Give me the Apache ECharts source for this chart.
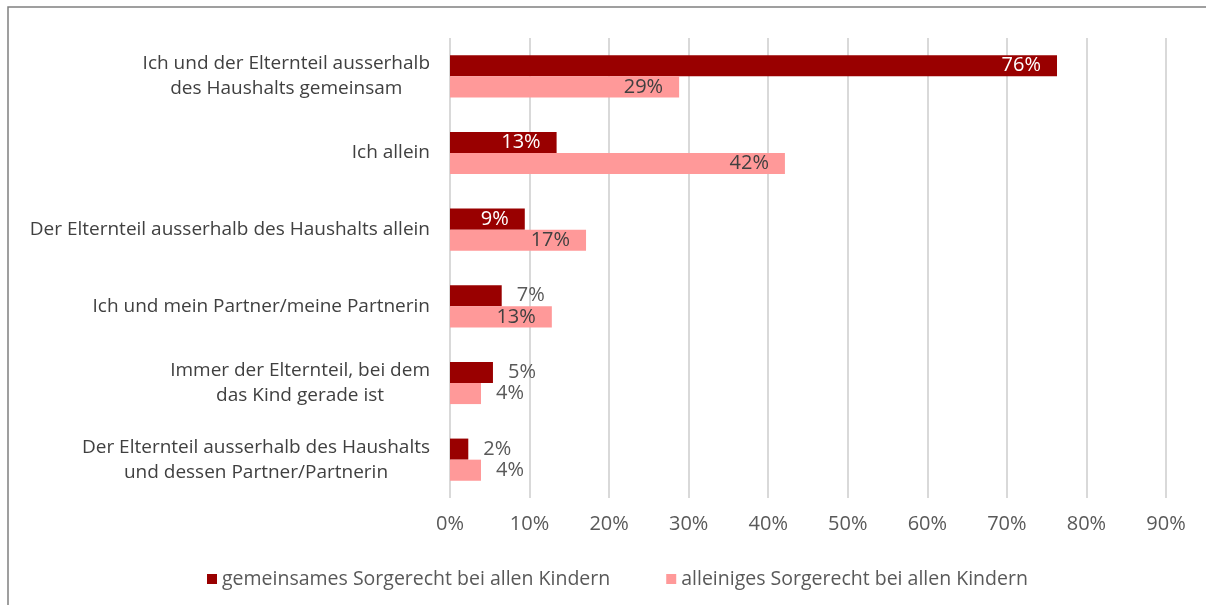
<!DOCTYPE html>
<html>
<head>
<meta charset="utf-8">
<script src="https://cdn.jsdelivr.net/npm/echarts@6/dist/echarts.min.js"></script>
<style>
  html, body { margin: 0; padding: 0; background: #fff; }
  #chart { width: 1206px; height: 605px; }
</style>
</head>
<body>
<div id="chart"></div>
<script>
var categories = [
  'Ich und der Elternteil ausserhalb\ndes Haushalts gemeinsam',
  'Ich allein',
  'Der Elternteil ausserhalb des Haushalts allein',
  'Ich und mein Partner/meine Partnerin',
  'Immer der Elternteil, bei dem\ndas Kind gerade ist',
  'Der Elternteil ausserhalb des Haushalts\nund dessen Partner/Partnerin'
];
var seriesNames = ['gemeinsames Sorgerecht bei allen Kindern', 'alleiniges Sorgerecht bei allen Kindern'];
var gemeinsam = [76.3, 13.4, 9.4, 6.5, 5.4, 2.3];
var alleinig = [28.8, 42.1, 17.1, 12.8, 3.9, 3.9];
var xTicks = [0, 10, 20, 30, 40, 50, 60, 70, 80, 90];

var FONT = 'Open Sans';
var GREY = '#595959';

// labels sit inside the bar end when the bar is long enough, else to the right
function makeData(values, limit, insideColor) {
  return values.map(function (v) {
    var inside = v >= limit;
    return {
      value: v,
      label: {
        position: inside ? 'insideRight' : 'right',
        distance: inside ? 16 : 15,
        color: inside ? insideColor : GREY
      }
    };
  });
}

var myChart = echarts.init(document.getElementById('chart'));
var option = {
  backgroundColor: '#fff',
  animation: false,
  textStyle: { fontFamily: FONT },
  graphic: [{
    type: 'rect',
    shape: { x: 8, y: 7, width: 1220, height: 620 },
    style: { fill: 'none', stroke: '#808080', lineWidth: 1.5 },
    silent: true
  }],
  grid: { left: 450, right: 40, top: 38, bottom: 107, containLabel: false },
  legend: {
    left: 202,
    top: 564,
    itemWidth: 10,
    itemHeight: 10,
    itemGap: 56,
    icon: 'rect',
    textStyle: { fontFamily: FONT, fontSize: 19.5, color: GREY },
    data: seriesNames
  },
  xAxis: {
    type: 'value',
    min: xTicks[0],
    max: xTicks[xTicks.length - 1],
    interval: 10,
    axisLine: { show: false },
    axisTick: { show: false },
    splitLine: { lineStyle: { color: '#d9d9d9', width: 2 } },
    axisLabel: { formatter: '{value}%', color: GREY, fontSize: 20, fontFamily: FONT, margin: 16 }
  },
  yAxis: {
    type: 'category',
    inverse: true,
    data: categories,
    axisLine: { show: false },
    axisTick: { show: false },
    axisLabel: {
      margin: 20,
      formatter: function (v) {
        return v.split('\n').map(function (s) { return '{a|' + s + '}'; }).join('\n');
      },
      rich: { a: { fontFamily: FONT, fontSize: 19, color: '#404040', align: 'center', lineHeight: 25 } }
    }
  },
  series: [{
    name: seriesNames[0],
    type: 'bar',
    barGap: '0%',
    barCategoryGap: '45%',
    itemStyle: { color: '#990000' },
    label: {
      show: true, fontFamily: FONT, fontSize: 20,
      formatter: function (p) { return Math.round(p.value) + '%'; }
    },
    data: makeData(gemeinsam, 8, '#ffffff')
  }, {
    name: seriesNames[1],
    type: 'bar',
    itemStyle: { color: '#ff9999' },
    label: {
      show: true, fontFamily: FONT, fontSize: 20,
      formatter: function (p) { return Math.round(p.value) + '%'; }
    },
    data: makeData(alleinig, 10, '#404040')
  }]
};
myChart.setOption(option);
window.addEventListener('resize', function () {
  myChart.resize();
});
</script>
</body>
</html>
